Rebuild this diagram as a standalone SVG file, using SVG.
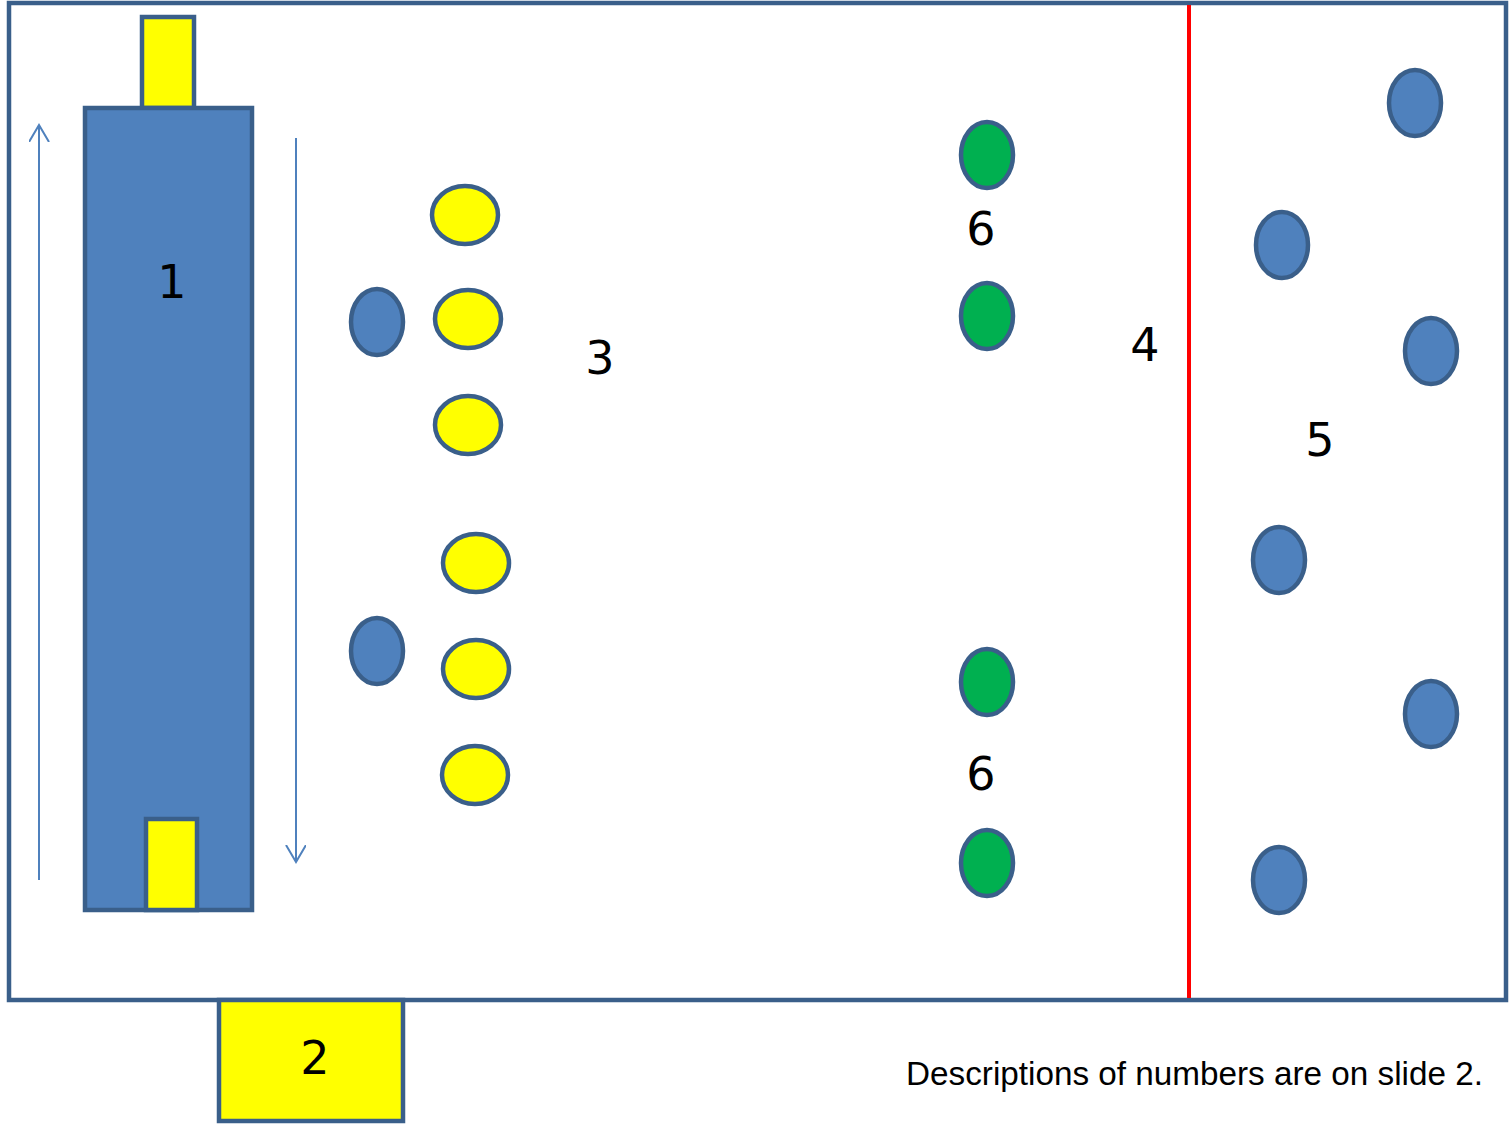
<svg xmlns="http://www.w3.org/2000/svg" width="1509" height="1124" viewBox="0 0 1509 1124">
<style>
.frame{fill:#fff;stroke:#3a5f8a;stroke-width:4.5}
.blue{fill:#4f81bd;stroke:#3a5f8a;stroke-width:4.5}
.yel{fill:#ffff00;stroke:#3a5f8a;stroke-width:4.5}
.grn{fill:#00b050;stroke:#3a5f8a;stroke-width:4.5}
.lbl{font-family:"DejaVu Sans","Liberation Sans",sans-serif;font-size:46px;fill:#000;text-anchor:middle}
.note{font-family:"Liberation Sans",Arial,sans-serif;font-size:34px;fill:#000}
.arr{stroke:#4f81bd;stroke-width:2;fill:none}
</style>
<defs>
<marker id="open" markerWidth="20" markerHeight="22" refX="17" refY="10" orient="auto" markerUnits="userSpaceOnUse" viewBox="0 0 20 22">
<path d="M0,0 L17,10 L0,20" fill="none" stroke="#4f81bd" stroke-width="2"/>
</marker>
</defs>
<rect class="frame" x="9" y="3" width="1497" height="997"/>
<g id="node-1">
<rect class="yel" x="142" y="17" width="52" height="91"/>
<rect class="blue" x="85" y="108" width="167" height="802"/>
<rect class="yel" x="146" y="819" width="51" height="91"/>
<text class="lbl" x="172" y="298">1</text>
</g>
<g id="node-2">
<rect class="yel" x="219" y="1000" width="184" height="121"/>
<text class="lbl" x="315" y="1074">2</text>
</g>
<g id="connectors">
<line class="arr" x1="39" y1="880" x2="39" y2="125" marker-end="url(#open)"/>
<line class="arr" x1="296" y1="138" x2="296" y2="862" marker-end="url(#open)"/>
<line x1="1189" y1="5" x2="1189" y2="998" stroke="#ff0000" stroke-width="4"/>
</g>
<g id="node-3">
<ellipse class="blue" cx="377" cy="322" rx="26" ry="33"/>
<ellipse class="blue" cx="377" cy="651" rx="26" ry="33"/>
<ellipse class="yel" cx="465" cy="215" rx="33" ry="29"/>
<ellipse class="yel" cx="468" cy="319" rx="33" ry="29"/>
<ellipse class="yel" cx="468" cy="425" rx="33" ry="29"/>
<ellipse class="yel" cx="476" cy="563" rx="33" ry="29"/>
<ellipse class="yel" cx="476" cy="669" rx="33" ry="29"/>
<ellipse class="yel" cx="475" cy="775" rx="33" ry="29"/>
<text class="lbl" x="600" y="374">3</text>
</g>
<g id="node-6">
<ellipse class="grn" cx="987" cy="155" rx="26" ry="33"/>
<ellipse class="grn" cx="987" cy="316" rx="26" ry="33"/>
<ellipse class="grn" cx="987" cy="682" rx="26" ry="33"/>
<ellipse class="grn" cx="987" cy="863" rx="26" ry="33"/>
<text class="lbl" x="981" y="245">6</text>
<text class="lbl" x="981" y="790">6</text>
</g>
<g id="node-4">
<text class="lbl" x="1145" y="361">4</text>
</g>
<g id="node-5">
<ellipse class="blue" cx="1415" cy="103" rx="26" ry="33"/>
<ellipse class="blue" cx="1282" cy="245" rx="26" ry="33"/>
<ellipse class="blue" cx="1431" cy="351" rx="26" ry="33"/>
<ellipse class="blue" cx="1279" cy="560" rx="26" ry="33"/>
<ellipse class="blue" cx="1431" cy="714" rx="26" ry="33"/>
<ellipse class="blue" cx="1279" cy="880" rx="26" ry="33"/>
<text class="lbl" x="1320" y="456">5</text>
</g>
<text class="note" x="906" y="1085" textLength="577" lengthAdjust="spacingAndGlyphs">Descriptions of numbers are on slide 2.</text>
</svg>
